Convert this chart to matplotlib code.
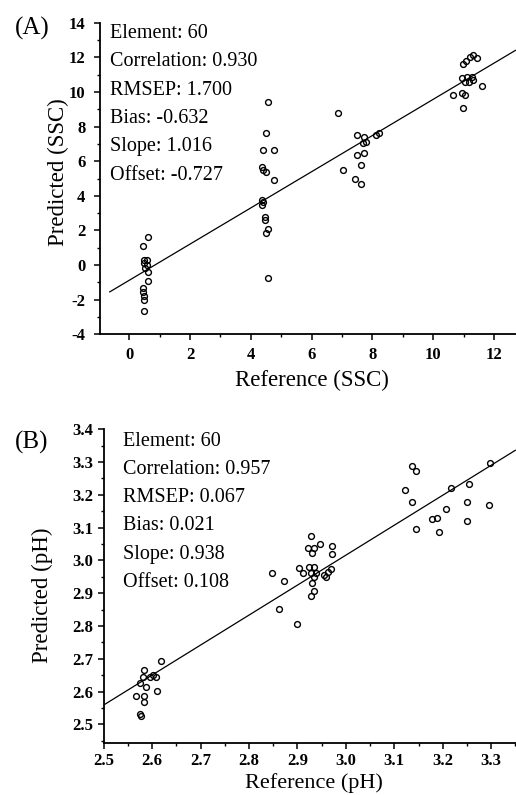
import matplotlib
matplotlib.use("Agg")
import matplotlib.pyplot as plt
from matplotlib.ticker import MultipleLocator, FormatStrFormatter

plt.rcParams['font.family'] = ['Liberation Serif', 'DejaVu Serif']

# ---------------- data: panel A (SSC) ----------------
ssc_ref = [0.63, 0.46, 0.48, 0.57, 0.48, 0.57, 0.52, 0.63, 0.63, 0.44, 0.44, 0.48, 0.48, 0.48,
           4.57, 4.50, 4.39, 4.76, 4.36, 4.41, 4.50, 4.76, 4.36, 4.41, 4.36, 4.46, 4.46, 4.57, 4.50, 4.57,
           6.88, 7.48, 7.73, 7.78, 8.10, 8.21, 7.70, 7.48, 7.73, 7.62, 7.04, 7.42, 7.62,
           10.97, 11.08, 11.21, 11.32, 11.45, 10.93, 11.10, 11.26, 11.04, 11.18, 11.32, 11.59,
           10.64, 10.93, 11.04, 10.97]
ssc_pred = [1.64, 1.10, 0.29, 0.29, 0.10, 0.00, -0.19, -0.38, -0.90, -1.35, -1.54, -1.79, -2.02, -2.65,
            9.44, 7.61, 6.65, 6.65, 5.65, 5.49, 5.39, 4.91, 3.76, 3.66, 3.47, 2.79, 2.60, 2.06, 1.83, -0.77,
            8.80, 7.51, 7.41, 7.13, 7.51, 7.61, 7.07, 6.36, 6.46, 5.80, 5.49, 4.98, 4.68,
            11.61, 11.80, 12.04, 12.13, 11.94, 10.79, 10.85, 10.88, 10.59, 10.59, 10.69, 10.36,
            9.85, 9.92, 9.80, 9.08]
ssc_fit_x = [-0.64, 12.70]
ssc_fit_y = [-1.55, 12.40]
ssc_stats = ["Element: 60", "Correlation: 0.930", "RMSEP: 1.700",
             "Bias: -0.632", "Slope: 1.016", "Offset: -0.727"]

# ---------------- data: panel B (pH) ----------------
ph_ref = [3.137, 3.145, 3.122, 3.137, 3.144, 3.218, 3.254, 3.298, 3.250, 3.295, 3.207, 3.178, 3.188,
          3.192, 3.250,
          2.929, 2.921, 2.935, 2.931, 2.947, 2.971, 2.971, 2.904, 2.912, 2.923, 2.935, 2.928, 2.935,
          2.938, 2.931, 2.935, 2.928, 2.955, 2.964, 2.969, 2.959, 2.848, 2.873, 2.861, 2.899,
          2.618, 2.583, 2.582, 2.595, 2.602, 2.609, 2.575, 2.588, 2.566, 2.583, 2.583, 2.610,
          2.575, 2.578]
ph_pred = [3.288, 3.273, 3.215, 3.177, 3.095, 3.222, 3.233, 3.298, 3.179, 3.169, 3.157, 3.125, 3.128,
           3.088, 3.120,
           3.076, 3.037, 3.037, 3.022, 3.049, 3.044, 3.019, 2.976, 2.961, 2.981, 2.981, 2.961, 2.950,
           2.961, 2.932, 2.908, 2.892, 2.956, 2.966, 2.973, 2.950, 2.961, 2.938, 2.851, 2.806,
           2.693, 2.665, 2.643, 2.645, 2.650, 2.643, 2.625, 2.615, 2.586, 2.586, 2.569, 2.601,
           2.533, 2.525]
ph_fit_x = [2.50, 3.35]
ph_fit_y = [2.559, 3.336]
ph_stats = ["Element: 60", "Correlation: 0.957", "RMSEP: 0.067",
            "Bias: 0.021", "Slope: 0.938", "Offset: 0.108"]

W, H = 516, 795
fig = plt.figure(figsize=(W / 100, H / 100), dpi=100)
fig.patch.set_facecolor('white')


def ax_rect(left, top, right, bottom):
    return [left / W, 1 - bottom / H, (right - left) / W, (bottom - top) / H]


def px(x, y):
    return x / W, 1 - y / H


def style_axes(ax, xmaj, xmin, ymaj, ymin, xfmt, yfmt, xpad, ypad):
    for s in ('top', 'right'):
        ax.spines[s].set_visible(False)
    for s in ('left', 'bottom'):
        ax.spines[s].set_linewidth(1.3)
    ax.xaxis.set_major_locator(MultipleLocator(xmaj))
    ax.xaxis.set_minor_locator(MultipleLocator(xmin))
    ax.yaxis.set_major_locator(MultipleLocator(ymaj))
    ax.yaxis.set_minor_locator(MultipleLocator(ymin))
    ax.xaxis.set_major_formatter(FormatStrFormatter(xfmt))
    ax.yaxis.set_major_formatter(FormatStrFormatter(yfmt))
    ax.tick_params(which='major', direction='out', length=4.5, width=1.1, labelsize=12)
    ax.tick_params(which='minor', direction='out', length=2.5, width=1.0)
    ax.tick_params(axis='y', which='major', pad=ypad)
    ax.tick_params(axis='x', which='major', pad=xpad)


def bold_ticks(ax):
    for lab in ax.get_xticklabels() + ax.get_yticklabels():
        lab.set_fontweight('bold')


# ---------------- panel A ----------------
axA = fig.add_axes(ax_rect(100, 22.7, 516, 334.3))
axA.plot(ssc_fit_x, ssc_fit_y, color='black', lw=0.9)
axA.plot(ssc_ref, ssc_pred, linestyle='none', marker='o', ms=4.2, mfc='none',
         mec='black', mew=1.0)
axA.set_xlim(-0.96, 12.72)
axA.set_ylim(-4, 14)
style_axes(axA, 2, 1, 2, 1, '%d', '%d', 4.5, 6)
axA.set_xticks([0, 2, 4, 6, 8, 10, 12])
bold_ticks(axA)

for i, t in enumerate(ssc_stats):
    fig.text(*px(110, 33.5 + 28.3 * i), t, fontsize=14.5, va='center', ha='left')

fig.text(*px(312, 380), "Reference (SSC)", fontsize=16.5, ha='center', va='center')
fig.text(*px(58, 172), "Predicted (SSC)", fontsize=16.5, ha='center', va='center', rotation=90)
fig.text(*px(32, 28), "(A)", fontsize=18, ha='center', va='center')

# ---------------- panel B ----------------
axB = fig.add_axes(ax_rect(103.7, 429.3, 516, 742.7))
axB.plot(ph_fit_x, ph_fit_y, color='black', lw=0.9)
axB.plot(ph_ref, ph_pred, linestyle='none', marker='o', ms=4.2, mfc='none',
         mec='black', mew=1.0)
axB.set_xlim(2.5, 3.3513)
axB.set_ylim(2.444, 3.4)
style_axes(axB, 0.1, 0.05, 0.1, 0.05, '%.1f', '%.1f', 3.0, 3)
axB.set_yticks([2.5, 2.6, 2.7, 2.8, 2.9, 3.0, 3.1, 3.2, 3.3, 3.4])
bold_ticks(axB)

for i, t in enumerate(ph_stats):
    fig.text(*px(123, 441 + 28.3 * i), t, fontsize=14.5, va='center', ha='left')

fig.text(*px(314, 783), "Reference (pH)", fontsize=16, ha='center', va='center')
fig.text(*px(42, 595), "Predicted (pH)", fontsize=16.5, ha='center', va='center', rotation=90)
fig.text(*px(32, 442), "(B)", fontsize=18, ha='center', va='center')

fig.savefig("out.png", dpi=100)
